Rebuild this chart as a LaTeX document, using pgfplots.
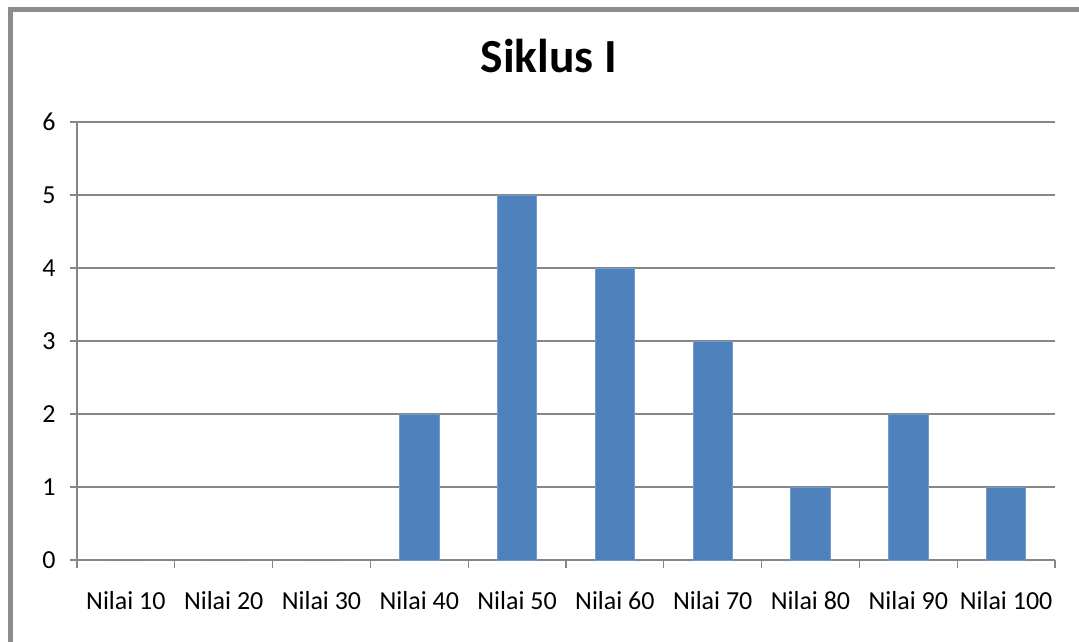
\documentclass[border=0pt]{standalone}
\usepackage{fontspec}
\setmainfont{Carlito}
\usepackage{pgfplots}
\pgfplotsset{compat=1.18}
\definecolor{barblue}{HTML}{4F81BD}
\definecolor{axgray}{HTML}{868686}
\definecolor{framegray}{HTML}{8C8C8C}
\begin{document}
\begin{tikzpicture}
\useasboundingbox (0pt,-642pt) rectangle (1079pt,0pt);
\clip (0pt,-642pt) rectangle (1079pt,0pt);
\draw[framegray, line width=5pt] (10.5pt,-700pt) -- (10.5pt,-9.5pt) -- (1100pt,-9.5pt);
\node[font=\fontsize{47.5}{57}\selectfont\bfseries, anchor=base, inner sep=0pt] at (549pt,-73pt) {Siklus I};
\begin{axis}[
  at={(77pt,-560pt)}, anchor=south west,
  scale only axis, width=978pt, height=438pt,
  xmin=0, xmax=10, ymin=0, ymax=6,
  ytick={0,...,6},
  xtick={0.5,1.5,...,9.5},
  xticklabels={Nilai 10,Nilai 20,Nilai 30,Nilai 40,Nilai 50,Nilai 60,Nilai 70,Nilai 80,Nilai 90,Nilai 100},
  minor xtick={0,...,10},
  axis x line*=bottom, axis y line*=left,
  axis line style={-, axgray, line width=1.2pt},
  tick align=outside,
  major tick length=7pt, minor tick length=8pt,
  major x tick style={draw=none},
  minor x tick style={axgray, line width=1.2pt},
  major y tick style={axgray, line width=1.2pt},
  ymajorgrids,
  grid style={axgray, line width=1.2pt},
  tick label style={font=\fontsize{26}{31}\selectfont},
  /pgf/number format/assume math mode=true,
  yticklabel style={xshift=-11pt},
  xticklabel style={yshift=-21pt},
]
\addplot[ybar, bar width=39.3pt, fill=barblue, draw=barblue!80!white, line width=0.8pt] coordinates {
(3.5,2) (4.5,5) (5.5,4) (6.5,3) (7.5,1) (8.5,2) (9.5,1)};
\addplot[ybar, bar width=39.3pt, fill=barblue, draw=none] coordinates {
(0.5,0) (1.5,0) (2.5,0)};
\end{axis}
\end{tikzpicture}
\end{document}
